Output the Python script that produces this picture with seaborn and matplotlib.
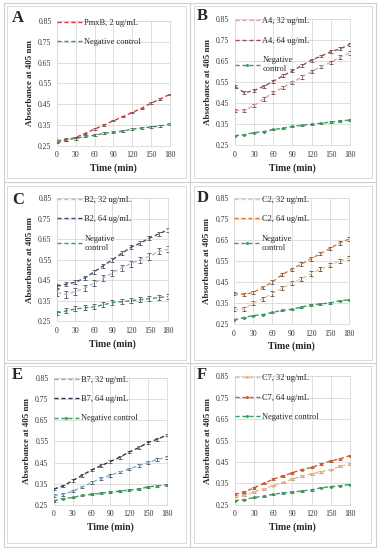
import numpy as np
import pandas as pd
import matplotlib
matplotlib.use("Agg")
import matplotlib.pyplot as plt
import seaborn as sns
from matplotlib.patches import Rectangle

# ==========================================================
# DATA
# ==========================================================

time_min = [0, 15, 30, 45, 60, 75, 90, 105, 120, 135, 150, 165, 180]

neg_a = [0.275, 0.28, 0.285, 0.295, 0.30, 0.31, 0.315, 0.32, 0.33, 0.335, 0.34, 0.345, 0.355]
pmxb_2 = [0.265, 0.278, 0.29, 0.31, 0.33, 0.35, 0.37, 0.39, 0.41, 0.43, 0.455, 0.475, 0.497]

a4_32 = [0.415, 0.415, 0.44, 0.47, 0.50, 0.525, 0.55, 0.575, 0.60, 0.625, 0.645, 0.67, 0.69]
a4_64 = [0.53, 0.50, 0.51, 0.53, 0.555, 0.58, 0.605, 0.63, 0.655, 0.675, 0.695, 0.71, 0.73]
neg_b = [0.295, 0.30, 0.31, 0.315, 0.325, 0.33, 0.34, 0.345, 0.35, 0.355, 0.36, 0.365, 0.37]

b2_32 = [0.39, 0.38, 0.395, 0.41, 0.435, 0.46, 0.485, 0.51, 0.53, 0.55, 0.565, 0.59, 0.60]
b2_64 = [0.42, 0.43, 0.44, 0.46, 0.49, 0.52, 0.55, 0.58, 0.61, 0.63, 0.655, 0.675, 0.695]
neg_c = [0.29, 0.30, 0.31, 0.315, 0.32, 0.33, 0.34, 0.345, 0.35, 0.355, 0.36, 0.365, 0.37]

c2_32 = [0.32, 0.32, 0.35, 0.37, 0.395, 0.42, 0.445, 0.465, 0.49, 0.51, 0.53, 0.55, 0.565]
c2_64 = [0.395, 0.39, 0.40, 0.425, 0.45, 0.485, 0.51, 0.535, 0.56, 0.585, 0.61, 0.635, 0.655]
neg_d = [0.27, 0.28, 0.29, 0.295, 0.305, 0.315, 0.32, 0.33, 0.34, 0.345, 0.35, 0.36, 0.365]

b7_32 = [0.295, 0.30, 0.315, 0.335, 0.355, 0.375, 0.39, 0.405, 0.42, 0.435, 0.45, 0.465, 0.475]
b7_64 = [0.325, 0.34, 0.365, 0.39, 0.415, 0.435, 0.455, 0.475, 0.50, 0.52, 0.545, 0.56, 0.58]
neg_e = [0.27, 0.28, 0.285, 0.295, 0.30, 0.305, 0.31, 0.315, 0.32, 0.325, 0.335, 0.34, 0.345]

c7_32 = [0.29, 0.295, 0.31, 0.325, 0.34, 0.355, 0.37, 0.385, 0.395, 0.405, 0.415, 0.43, 0.44]
c7_64 = [0.30, 0.31, 0.33, 0.35, 0.37, 0.385, 0.40, 0.415, 0.425, 0.44, 0.455, 0.465, 0.48]
neg_f = [0.27, 0.275, 0.285, 0.29, 0.30, 0.305, 0.31, 0.315, 0.32, 0.33, 0.335, 0.34, 0.345]

y_ticks = [0.25, 0.35, 0.45, 0.55, 0.65, 0.75, 0.85]
x_ticks = [0, 30, 60, 90, 120, 150, 180]

green = "#3a9e60"

# (letter, letter pos px, axes rect, chart border px, series [(label, values, err, color, marker)])
panels = [
    ("A", (12, 18), [0.150, 0.735, 0.297, 0.227], (7, 6, 186, 178), [
        ("PmxB, 2 ug/mL", pmxb_2, 0.003, "#e03a3a", None),
        ("Negative control", neg_a, 0.005, green, None)]),
    ("B", (197, 16), [0.618, 0.736, 0.303, 0.229], (194, 6, 372, 178), [
        ("A4, 32 ug/mL", a4_32, 0.008, "#e8a4a4", None),
        ("A4, 64 ug/mL", a4_64, 0.007, "#a84848", None),
        ("Negative\ncontrol", neg_b, 0.003, green, "o")]),
    ("C", (12, 200), [0.150, 0.416, 0.292, 0.224], (7, 186, 186, 360), [
        ("B2, 32 ug/mL", b2_32, 0.015, "#a9bde0", None),
        ("B2, 64 ug/mL", b2_64, 0.010, "#3c4f7c", None),
        ("Negative\ncontrol", neg_c, 0.012, green, None)]),
    ("D", (197, 198), [0.616, 0.411, 0.303, 0.229], (194, 186, 372, 360), [
        ("C2, 32 ug/mL", c2_32, 0.010, "#f5c590", None),
        ("C2, 64 ug/mL", c2_64, 0.008, "#e07a30", None),
        ("Negative\ncontrol", neg_d, 0.003, green, "o")]),
    ("E", (12, 375), [0.142, 0.082, 0.297, 0.231], (7, 366, 186, 543), [
        ("B7, 32 ug/mL", b7_32, 0.006, "#80b0e0", None),
        ("B7, 64 ug/mL", b7_64, 0.006, "#2a3650", None),
        ("Negative control", neg_e, 0.004, green, "o")]),
    ("F", (197, 375), [0.618, 0.082, 0.303, 0.234], (194, 366, 371, 543), [
        ("C7, 32 ug/mL", c7_32, 0.004, "#f3b88a", "o"),
        ("C7, 64 ug/mL", c7_64, 0.004, "#d85a30", "o"),
        ("Negative control", neg_f, 0.003, green, "o")]),
]

# ==========================================================
# FIGURE
# ==========================================================

sns.set_style("white")
plt.rcParams["font.family"] = ["Liberation Serif", "DejaVu Serif"]

W, H = 380, 550
fig = plt.figure(figsize=(W / 100, H / 100), dpi=100)

# table lines behind the charts
for x in (4, 190, 376):
    fig.add_artist(plt.Line2D([x / W, x / W], [1 - 3 / H, 1 - 547 / H], color="#d0d0d0", lw=0.8))
for y in (3, 182, 363, 547):
    fig.add_artist(plt.Line2D([4 / W, 376 / W], [1 - y / H, 1 - y / H], color="#d0d0d0", lw=0.8))

for letter, lpos, rect, box, series in panels:
    x0, y0, x1, y1 = box
    fig.add_artist(Rectangle((x0 / W, 1 - y1 / H), (x1 - x0) / W, (y1 - y0) / H,
                             fill=False, edgecolor="#d9d9d9", lw=0.7))

    ax = fig.add_axes(rect)

    for label, vals, err, color, marker in series:
        df = pd.DataFrame({"t": time_min, "v": vals})
        ax.errorbar(df["t"], df["v"], yerr=err, fmt="none", ecolor="#555555",
                    elinewidth=0.6, capsize=1.5, capthick=0.6, zorder=3)
        sns.lineplot(data=df, x="t", y="v", ax=ax, color=color, lw=1.0,
                     linestyle=(0, (3, 2)), marker=marker, markersize=2.2,
                     markeredgewidth=0, label=label, zorder=4)

    ax.set_xlim(0, 180)
    ax.set_ylim(0.25, 0.85)
    ax.set_xticks(x_ticks)
    ax.set_yticks(y_ticks)
    ax.set_yticklabels([f"{v:.2f}" for v in y_ticks])
    ax.tick_params(length=0, labelsize=5.5, pad=4, colors="#333333")
    ax.grid(True, color="#d9d9d9", lw=0.6)
    for sp in ax.spines.values():
        sp.set_color("#d9d9d9")
        sp.set_linewidth(0.6)

    ax.set_xlabel("Time (min)", fontsize=7, fontweight="bold", labelpad=3)
    ax.set_ylabel("Absorbance at 405 nm", fontsize=6.5, fontweight="bold", labelpad=3)

    ax.legend(loc="upper left", bbox_to_anchor=(0.0, 1.015), frameon=False,
              fontsize=6, handlelength=3.0, handletextpad=0.3,
              labelspacing=1.35, borderaxespad=0, borderpad=0)

    fig.text(lpos[0] / W, 1 - lpos[1] / H, letter, fontsize=12,
             fontweight="bold", ha="left", va="center")

fig.savefig("out.png", dpi=100)
